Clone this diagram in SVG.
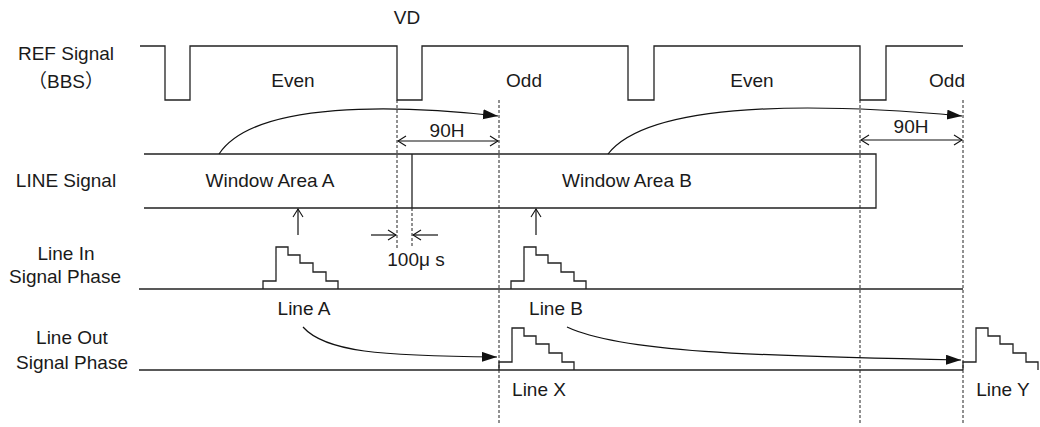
<svg xmlns="http://www.w3.org/2000/svg" width="1040" height="427" viewBox="0 0 1040 427">
<style>
text{font-family:"Liberation Sans","Noto Sans CJK JP",sans-serif;font-size:19px;fill:#1a1a1a}
.m{text-anchor:middle}
.ln{fill:none;stroke:#222;stroke-width:1.3}
.dash{fill:none;stroke:#222;stroke-width:1;stroke-dasharray:3,2}
.arr{fill:none;stroke:#111;stroke-width:1.2}
</style>
<defs>
<marker id="fill" markerUnits="userSpaceOnUse" markerWidth="16" markerHeight="12" refX="15" refY="5" orient="auto">
<path d="M0,0 L15,5 L0,10 z" fill="#111"/>
</marker>
<marker id="open" markerUnits="userSpaceOnUse" markerWidth="12" markerHeight="12" refX="9" refY="6" orient="auto">
<path d="M1,1 L9,6 L1,11" fill="none" stroke="#111" stroke-width="1.1"/>
</marker>
</defs>
<rect width="1040" height="427" fill="#fff"/>

<g id="labels">
<text x="407" y="24" class="m">VD</text>
<text x="66" y="60" class="m">REF Signal</text>
<text x="66" y="88" class="m">（BBS）</text>
<text x="66" y="187" class="m">LINE Signal</text>
<text x="66" y="260" class="m">Line In</text>
<text x="65" y="283" class="m">Signal Phase</text>
<text x="72" y="344" class="m">Line Out</text>
<text x="72" y="369" class="m">Signal Phase</text>
</g>

<g id="ref-signal">
<path class="ln" d="M140,46 H165 V100 H190 V46 H397 V100 H422 V46 H628 V100 H654 V46 H860 V100 H886 V46 H963"/>
<text x="293" y="87" class="m">Even</text>
<text x="524" y="87" class="m">Odd</text>
<text x="752" y="87" class="m">Even</text>
<text x="947" y="87" class="m">Odd</text>
</g>

<g id="guides">
<line class="dash" x1="397" y1="100" x2="397" y2="248"/>
<line class="dash" x1="412" y1="208" x2="412" y2="248"/>
<line class="dash" x1="499" y1="100" x2="499" y2="425"/>
<line class="dash" x1="860" y1="100" x2="860" y2="425"/>
<line class="dash" x1="963" y1="100" x2="963" y2="425"/>
</g>

<g id="line-signal">
<path class="ln" d="M144,154 H876 V208 H144"/>
<line class="ln" x1="412" y1="154" x2="412" y2="208"/>
<text x="270" y="187" class="m">Window Area A</text>
<text x="627" y="187" class="m">Window Area B</text>
</g>

<g id="line-in">
<line class="ln" x1="139" y1="289" x2="963" y2="289"/>
<path class="ln" d="M263,289 V281 H276 V247 H288 V255 H300 V263 H313 V272 H326 V281 H338 V289"/>
<path class="ln" d="M511,289 V281 H524 V247 H536 V255 H548 V263 H561 V272 H574 V281 H586 V289"/>
<text x="304" y="315" class="m">Line A</text>
<text x="556" y="315" class="m">Line B</text>
</g>

<g id="line-out">
<line class="ln" x1="139" y1="370" x2="963" y2="370"/>
<path class="ln" d="M499,370 V362 H512 V328 H524 V336 H536 V344 H549 V353 H562 V362 H574 V370"/>
<path class="ln" d="M963,370 V362 H976 V328 H988 V336 H1000 V344 H1013 V353 H1026 V362 H1038 V370"/>
<text x="539" y="396" class="m">Line X</text>
<text x="1003" y="396" class="m">Line Y</text>
</g>

<g id="connectors">
<path class="arr" d="M219,154 C255,100 400,105 498,116" marker-end="url(#fill)"/>
<path class="arr" d="M608,154 C650,100 820,103 962,116" marker-end="url(#fill)"/>
<path class="arr" d="M303,327 C325,352 380,356 497,357" marker-end="url(#fill)"/>
<path class="arr" d="M567,327 C620,352 750,356 961,360" marker-end="url(#fill)"/>
<line class="arr" x1="448" y1="141" x2="398" y2="141" marker-end="url(#open)"/>
<line class="arr" x1="448" y1="141" x2="498" y2="141" marker-end="url(#open)"/>
<line class="arr" x1="911" y1="140" x2="861" y2="140" marker-end="url(#open)"/>
<line class="arr" x1="911" y1="140" x2="962" y2="140" marker-end="url(#open)"/>
<line class="arr" x1="298" y1="235" x2="298" y2="209" marker-end="url(#open)"/>
<line class="arr" x1="536" y1="235" x2="536" y2="209" marker-end="url(#open)"/>
<line class="arr" x1="371" y1="235" x2="396" y2="235" marker-end="url(#open)"/>
<line class="arr" x1="438" y1="235" x2="413" y2="235" marker-end="url(#open)"/>
<text x="447" y="137" class="m">90H</text>
<text x="911" y="133" class="m">90H</text>
<text x="416" y="266" class="m">100μ s</text>
</g>
</svg>
